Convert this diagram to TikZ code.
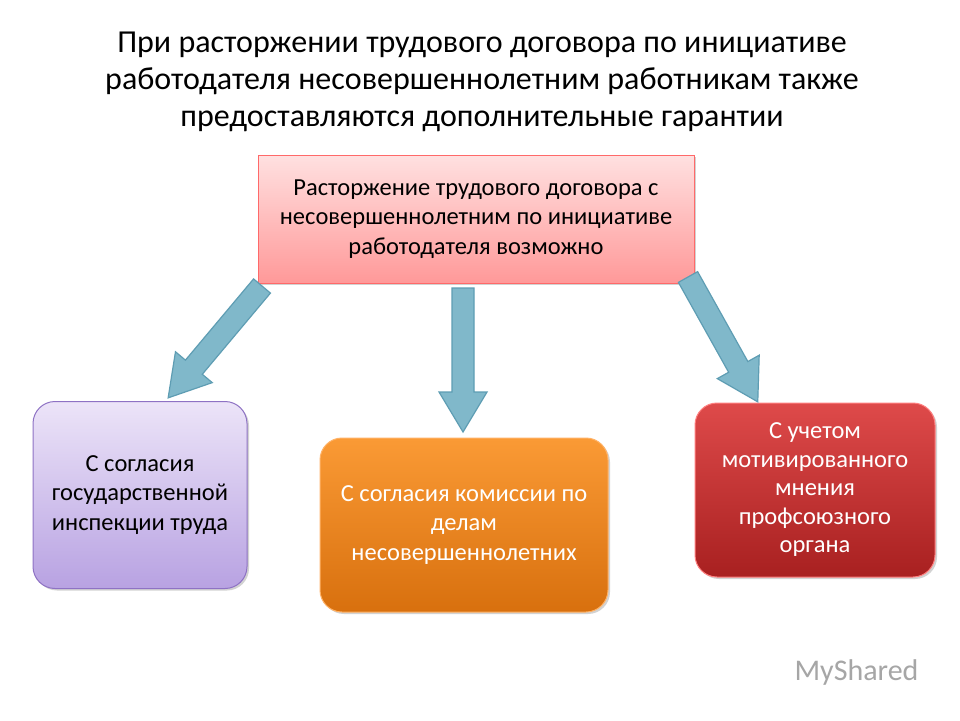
\documentclass[tikz,border=0pt]{standalone}
\usepackage{fontspec}
\setmainfont{Carlito}
\usetikzlibrary{shadows}
\definecolor{arrowfill}{HTML}{80B8CA}
\definecolor{arrowdraw}{HTML}{5E9DB3}
\definecolor{lavtop}{HTML}{ECE4F8}
\definecolor{lavbot}{HTML}{B8A2E2}
\definecolor{lavdraw}{HTML}{8E72C4}
\definecolor{redtop}{HTML}{DE4A4A}
\definecolor{redbot}{HTML}{A82020}
\definecolor{ortop}{HTML}{FA9A35}
\definecolor{orbot}{HTML}{D8700E}
\tikzset{
  box/.style={draw, line width=1pt, align=center, font=\fontsize{24.5}{29.5}\selectfont, inner sep=4pt, drop shadow={opacity=0.35,shadow xshift=2pt,shadow yshift=-2pt}},
  blockarrow/.style={draw=arrowdraw, fill=arrowfill, line width=1.2pt, line join=miter},
}
\newcommand{\blockarr}[3]{%
  \draw[blockarrow, shift={#1}, rotate=#2] (0,-11) -- (#3-40,-11) -- (#3-40,-24) -- (#3,0) -- (#3-40,24) -- (#3-40,11) -- (0,11) -- cycle;}
\begin{document}
\begin{tikzpicture}[x=1pt,y=-1pt]
\useasboundingbox[fill=white] (0,0) rectangle (960,720);
\node[align=center, font=\fontsize{32}{37}\selectfont] (title) at (482,82) {При расторжении трудового договора по инициативе\\работодателя несовершеннолетним работникам также\\предоставляются дополнительные гарантии};
\node[box, draw=red!45!pink, top color=red!12, bottom color=red!40, minimum width=436pt, minimum height=128pt] (top) at (476,219) {Расторжение трудового договора с\\несовершеннолетним по инициативе\\работодателя возможно};
\node[box, rounded corners=22pt, draw=lavdraw, top color=lavtop, bottom color=lavbot, minimum width=214pt, minimum height=187pt] (left) at (140,495) {С согласия\\государственной\\инспекции труда};
\node[box, rounded corners=22pt, draw=orange!60!white, top color=ortop, bottom color=orbot, text=white, minimum width=288pt, minimum height=174pt] (mid) at (464,525) {С согласия комиссии по\\делам\\несовершеннолетних};
\node[box, rounded corners=22pt, draw=red!50!white, top color=redtop, bottom color=redbot, text=white, minimum width=240pt, minimum height=174pt, font=\fontsize{24.5}{28.5}\selectfont] (right) at (815,490) {С учетом\\мотивированного\\мнения\\профсоюзного\\органа};
\blockarr{(262,286)}{230}{146}
\blockarr{(463,288)}{270}{144}
\blockarr{(688,277)}{-60.8}{143}
\node[font=\fontsize{30}{30}\selectfont, text=gray!70, anchor=east] (wm) at (922,672) {MyShared};
\end{tikzpicture}
\end{document}
